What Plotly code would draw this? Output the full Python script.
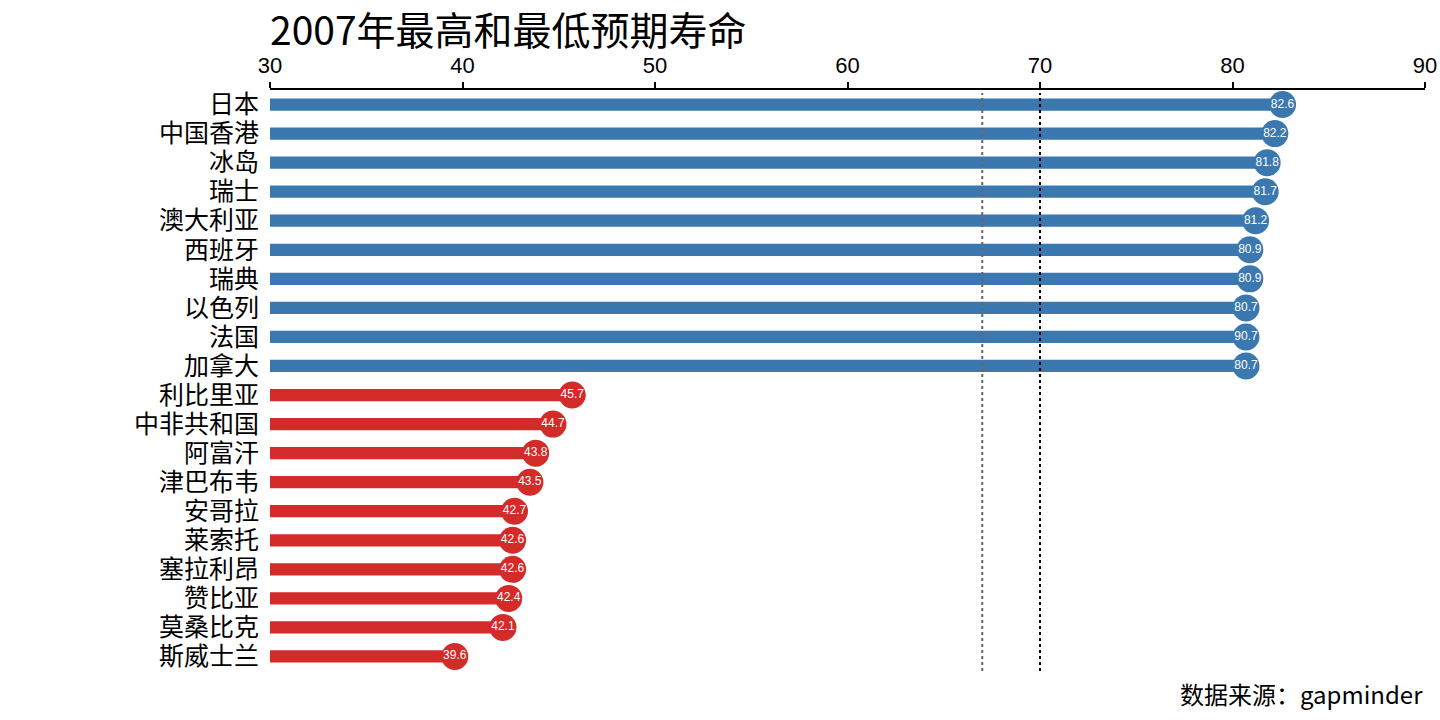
import plotly.graph_objects as go

# data
countries = ['日本', '中国香港', '冰岛', '瑞士', '澳大利亚', '西班牙', '瑞典', '以色列', '法国', '加拿大',
             '利比里亚', '中非共和国', '阿富汗', '津巴布韦', '安哥拉', '莱索托', '塞拉利昂', '赞比亚', '莫桑比克', '斯威士兰']
life_exp = [82.6, 82.2, 81.8, 81.7, 81.2, 80.9, 80.9, 80.7, 80.7, 80.7,
            45.7, 44.7, 43.8, 43.5, 42.7, 42.6, 42.6, 42.4, 42.1, 39.6]
value_labels = ['82.6', '82.2', '81.8', '81.7', '81.2', '80.9', '80.9', '80.7', '90.7', '80.7',
                '45.7', '44.7', '43.8', '43.5', '42.7', '42.6', '42.6', '42.4', '42.1', '39.6']
group = ['high'] * 10 + ['low'] * 10
mean_line = 67.0
ref_line = 70
base_val = 30

BLUE = '#3b78b0'
RED = '#d32a2a'
colors = [BLUE if g == 'high' else RED for g in group]
font = 'Noto Sans CJK SC'

fig = go.Figure()
fig.add_trace(go.Bar(
    y=countries, x=[v - base_val for v in life_exp], base=base_val,
    orientation='h', marker=dict(color=colors, line=dict(width=0)),
    width=0.42, hoverinfo='skip'))
fig.add_trace(go.Scatter(
    y=countries, x=life_exp, mode='markers+text',
    marker=dict(size=27, color=colors, line=dict(width=0)),
    text=value_labels, textposition='middle center',
    textfont=dict(size=12, color='white', family='Liberation Sans')))

for xv, c in [(mean_line, '#666666'), (ref_line, 'black')]:
    fig.add_shape(type='line', x0=xv, x1=xv, y0=0, y1=0.995, xref='x', yref='paper',
                  line=dict(color=c, width=2, dash='dot'), layer='above')

fig.add_annotation(text='数据来源：gapminder', x=1, y=-0.005, xref='paper', yref='paper',
                   xanchor='right', yanchor='top', showarrow=False,
                   font=dict(size=24, color='black', family=font))

fig.update_layout(
    width=1440, height=720, showlegend=False,
    plot_bgcolor='white', paper_bgcolor='white',
    margin=dict(l=270, r=15, t=90, b=49, autoexpand=False),
    font=dict(family=font, color='black'),
    title=dict(text='2007年最高和最低预期寿命', x=270 / 1440, xanchor='left',
               y=0.957, yanchor='middle', font=dict(size=39, color='black', family=font)),
    xaxis=dict(side='top', range=[30, 90], dtick=10, showgrid=False, zeroline=False,
               showline=True, linecolor='black', linewidth=2, automargin=False,
               ticks='outside', ticklen=6, tickwidth=2, tickcolor='black',
               tickfont=dict(size=22, family='Liberation Sans')),
    yaxis=dict(tickmode='array', tickvals=countries, ticktext=countries,
               categoryorder='array', categoryarray=countries, range=[19.5, -0.5],
               showgrid=False, zeroline=False, showline=False, ticks='', automargin=False,
               ticklabelstandoff=10, tickfont=dict(size=25, family=font)),
)

fig.write_html('out.html', config={'displayModeBar': False},
               post_script="document.body.style.margin='0';")
